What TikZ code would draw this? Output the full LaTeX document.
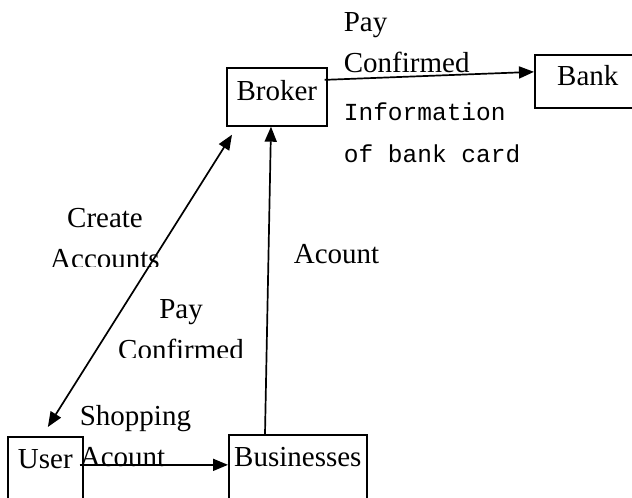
\documentclass[tikz,border=0pt]{standalone}
\usepackage{fontspec}
\setmainfont{Liberation Serif}
\newfontfamily\monofont{Liberation Mono}
\usetikzlibrary{arrows.meta,positioning}

\begin{document}
\begin{tikzpicture}[
  x=1pt, y=-1pt,
  every node/.style={font=\fontsize{29}{41}\selectfont},
  >={Triangle[length=15pt,width=12pt]}, line width=1.7pt,
  box/.style={draw, rectangle, anchor=north west, inner sep=4pt},
  lbl/.style={anchor=base west, align=left, inner sep=0pt}
]
\useasboundingbox (0,0) rectangle (632,498);

% Boxes (entities)
\node[box, minimum width=100pt, text height=29pt, text depth=21pt] (Broker) at (226,67) {Broker};
\node[box, minimum width=106pt, text height=27pt, text depth=18pt] (Bank) at (534,54) {Bank};
\node[box, minimum width=75pt, text height=28pt, text depth=38pt] (User) at (7,436) {User};
\node[box, minimum width=138pt, text height=28pt, text depth=40pt] (Businesses) at (228,434) {Businesses};

% Arrows (data flows)
\draw[->] ([shift={(-3,-17)}]Broker.east) -- ([shift={(0,-9.5)}]Bank.west);
\draw[<->] ([shift={(6,8)}]Broker.south west) -- ([shift={(2.5,-9)}]User.north);
\draw[->] ([xshift=37pt]Businesses.north west) -- ([xshift=45pt]Broker.south west);
\draw[->] ([shift={(-4,-9)}]User.east) -- ([yshift=8pt]Businesses.west);

% Labels (base = last line)
\node[lbl] (payBank) at (343,72) {Pay\\Confirmed};
\node[lbl, font=\monofont\fontsize{24.5}{42}\selectfont] (cardInfo) at (343,162) {Information\\of bank card};
\begin{scope}
  \clip (0,150) rectangle (632,266);
  \node[lbl, anchor=base, align=center] (createAcc) at (105,268) {Create\\Accounts};
\end{scope}
\node[lbl] (acountBiz) at (293,263) {Acount};
\begin{scope}
  \clip (0,280) rectangle (632,357);
  \node[lbl, anchor=base, align=center] (payUser) at (181,359) {Pay\\Confirmed};
\end{scope}
\node[lbl] (shopAcc) at (79,466) {Shopping\\Acount};

\end{tikzpicture}
\end{document}
